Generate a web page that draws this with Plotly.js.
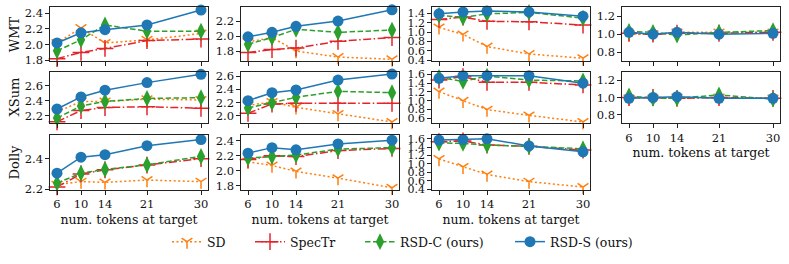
<!DOCTYPE html>
<html><head><meta charset="utf-8">
<script src="https://cdn.plot.ly/plotly-3.0.1.min.js"></script>
<style>html,body{margin:0;padding:0;background:#fff}#chart{width:789px;height:264px}</style>
</head><body><div id="chart"></div><script>
const tokens = [6, 10, 14, 21, 30];
const tickLabels = ['6', '10', '14', '21', '30'];
const methods = ['SD', 'SpecTr', 'RSD-C (ours)', 'RSD-S (ours)'];
const rowNames = ['WMT', 'XSum', 'Dolly'];

// WMT
const WMT_1_SD     = [2.02, 2.21, 2.02, 2.06, 2.14];
const WMT_1_SpecTr = [1.82, 1.90, 1.95, 2.05, 2.07];
const WMT_1_RSDC   = [1.92, 2.06, 2.25, 2.17, 2.17];
const WMT_1_RSDS   = [2.02, 2.15, 2.19, 2.25, 2.44];
const WMT_2_SD     = [1.92, 1.98, 1.80, 1.72, 1.69];
const WMT_2_SpecTr = [1.78, 1.82, 1.84, 1.93, 1.98];
const WMT_2_RSDC   = [1.89, 1.98, 2.09, 2.05, 2.08];
const WMT_2_RSDS   = [1.99, 2.05, 2.13, 2.20, 2.35];
const WMT_3_SD     = [1.10, 0.95, 0.69, 0.53, 0.44];
const WMT_3_SpecTr = [1.27, 1.32, 1.23, 1.22, 1.15];
const WMT_3_RSDC   = [1.36, 1.31, 1.39, 1.42, 1.30];
const WMT_3_RSDS   = [1.39, 1.43, 1.45, 1.43, 1.34];
const WMT_4_SD     = [1.00, 1.00, 1.02, 1.02, 1.02];
const WMT_4_SpecTr = [1.01, 1.00, 1.01, 1.01, 1.02];
const WMT_4_RSDC   = [1.03, 1.02, 0.99, 1.02, 1.04];
const WMT_4_RSDS   = [1.02, 1.00, 1.02, 1.00, 1.01];
// XSum
const XSum_1_SD     = [2.25, 2.39, 2.39, 2.42, 2.41];
const XSum_1_SpecTr = [2.12, 2.27, 2.31, 2.32, 2.30];
const XSum_1_RSDC   = [2.17, 2.33, 2.39, 2.43, 2.44];
const XSum_1_RSDS   = [2.29, 2.45, 2.54, 2.64, 2.75];
const XSum_2_SD     = [2.16, 2.21, 2.13, 2.03, 1.91];
const XSum_2_SpecTr = [2.04, 2.18, 2.19, 2.19, 2.19];
const XSum_2_RSDC   = [2.12, 2.20, 2.28, 2.37, 2.35];
const XSum_2_RSDS   = [2.23, 2.35, 2.39, 2.54, 2.63];
const XSum_3_SD     = [1.21, 1.00, 0.80, 0.67, 0.52];
const XSum_3_SpecTr = [1.47, 1.55, 1.42, 1.42, 1.36];
const XSum_3_RSDC   = [1.53, 1.44, 1.56, 1.47, 1.45];
const XSum_3_RSDS   = [1.51, 1.57, 1.57, 1.57, 1.40];
const XSum_4_SD     = [0.99, 0.99, 1.00, 1.00, 0.99];
const XSum_4_SpecTr = [1.00, 1.00, 0.99, 1.00, 0.99];
const XSum_4_RSDC   = [1.02, 0.99, 0.99, 1.03, 0.98];
const XSum_4_RSDS   = [0.99, 1.00, 1.01, 0.99, 0.99];
// Dolly
const Dolly_1_SD     = [2.23, 2.25, 2.245, 2.26, 2.25];
const Dolly_1_SpecTr = [2.215, 2.30, 2.327, 2.358, 2.40];
const Dolly_1_RSDC   = [2.24, 2.305, 2.33, 2.36, 2.415];
const Dolly_1_RSDS   = [2.305, 2.41, 2.426, 2.485, 2.525];
const Dolly_2_SD     = [2.12, 2.07, 1.99, 1.90, 1.77];
const Dolly_2_SpecTr = [2.15, 2.20, 2.19, 2.27, 2.30];
const Dolly_2_RSDC   = [2.17, 2.19, 2.21, 2.29, 2.31];
const Dolly_2_RSDS   = [2.236, 2.31, 2.28, 2.36, 2.41];
const Dolly_3_SD     = [1.12, 0.93, 0.75, 0.58, 0.45];
const Dolly_3_SpecTr = [1.53, 1.55, 1.45, 1.42, 1.33];
const Dolly_3_RSDC   = [1.50, 1.49, 1.45, 1.42, 1.36];
const Dolly_3_RSDS   = [1.57, 1.58, 1.60, 1.43, 1.29];

const panels = [
  {row: 0, col: 0, s: [WMT_1_SD, WMT_1_SpecTr, WMT_1_RSDC, WMT_1_RSDS], yr: [1.79, 2.475], lab: false},
  {row: 0, col: 1, s: [WMT_2_SD, WMT_2_SpecTr, WMT_2_RSDC, WMT_2_RSDS], yr: [1.667, 2.383], lab: false},
  {row: 0, col: 2, s: [WMT_3_SD, WMT_3_SpecTr, WMT_3_RSDC, WMT_3_RSDS], yr: [0.38, 1.53], lab: false},
  {row: 0, col: 3, s: [WMT_4_SD, WMT_4_SpecTr, WMT_4_RSDC, WMT_4_RSDS], yr: [0.7, 1.3], lab: false},
  {row: 1, col: 0, s: [XSum_1_SD, XSum_1_SpecTr, XSum_1_RSDC, XSum_1_RSDS], yr: [2.10, 2.785], lab: false},
  {row: 1, col: 1, s: [XSum_2_SD, XSum_2_SpecTr, XSum_2_RSDC, XSum_2_RSDS], yr: [1.89, 2.665], lab: false},
  {row: 1, col: 2, s: [XSum_3_SD, XSum_3_SpecTr, XSum_3_RSDC, XSum_3_RSDS], yr: [0.49, 1.66], lab: false},
  {row: 1, col: 3, s: [XSum_4_SD, XSum_4_SpecTr, XSum_4_RSDC, XSum_4_RSDS], yr: [0.7, 1.3], lab: true},
  {row: 2, col: 0, s: [Dolly_1_SD, Dolly_1_SpecTr, Dolly_1_RSDC, Dolly_1_RSDS], yr: [2.195, 2.555], lab: true},
  {row: 2, col: 1, s: [Dolly_2_SD, Dolly_2_SpecTr, Dolly_2_RSDC, Dolly_2_RSDS], yr: [1.74, 2.48], lab: true},
  {row: 2, col: 2, s: [Dolly_3_SD, Dolly_3_SpecTr, Dolly_3_RSDC, Dolly_3_RSDS], yr: [0.38, 1.69], lab: true}
];

const W = 789, H = 264;
const colPx = [[49.8, 208.2], [240.8, 399.2], [431.8, 590.2], [621.8, 780.2]];
const rowPx = [[7.3, 61], [71.7, 123.3], [135, 190]];
const legendTextPx = [207, 290, 400, 550];

const styles = [
  {color: '#ff7f0e', dash: '2px,2.5px', symbol: 'y-down-open', size: 9, lw: 1.5},
  {color: '#e3242b', dash: '8px,2.5px,1.5px,2.5px', symbol: 'cross-thin-open', size: 12, lw: 1.5},
  {color: '#2ca02c', dash: '5.5px,2.5px', symbol: 'diamond-tall', size: 12, lw: 1.5},
  {color: '#1f77b4', dash: 'solid', symbol: 'circle', size: 11, lw: 1.5}
];

const font = 'DejaVu Serif';
const traces = [];
const legendNames = ['legend', 'legend2', 'legend3', 'legend4'];
const layout = {
  width: W, height: H, margin: {l: 0, r: 0, t: 0, b: 0},
  paper_bgcolor: '#fff', plot_bgcolor: '#fff',
  font: {family: font, size: 11, color: '#111'},
  showlegend: true,
  annotations: []
};
legendNames.forEach((ln, j) => {
  layout[ln] = {orientation: 'h', x: (legendTextPx[j] - 40) / W, xanchor: 'left', y: (H - 242) / H, yanchor: 'middle',
    font: {family: font, size: 12.5, color: '#111'}, bgcolor: 'rgba(0,0,0,0)', borderwidth: 0};
});

panels.forEach((p, i) => {
  const k = i + 1;
  const xa = 'xaxis' + (k === 1 ? '' : k), ya = 'yaxis' + (k === 1 ? '' : k);
  const xr = 'x' + (k === 1 ? '' : k), yr = 'y' + (k === 1 ? '' : k);
  const cp = colPx[p.col], rp = rowPx[p.row];
  layout[xa] = {
    domain: [cp[0] / W, cp[1] / W], anchor: yr, range: [4.8, 31.2],
    tickvals: tokens, ticktext: tickLabels, showticklabels: p.lab,
    ticks: 'outside', ticklen: 3.5, tickwidth: 1, tickcolor: '#222',
    showline: true, mirror: true, linecolor: '#222', linewidth: 1,
    showgrid: false, zeroline: false, fixedrange: true,
    tickfont: {family: font, size: 11.5, color: '#111'},
    title: p.lab ? {text: 'num. tokens at target', font: {family: font, size: 12.5, color: '#111'}, standoff: 4} : {text: ''}
  };
  layout[ya] = {
    domain: [1 - rp[1] / H, 1 - rp[0] / H], anchor: xr, range: p.yr,
    dtick: 0.2, tick0: 0, tickformat: '.1f',
    ticks: 'outside', ticklen: 3.5, tickwidth: 1, tickcolor: '#222',
    showline: true, mirror: true, linecolor: '#222', linewidth: 1,
    showgrid: false, zeroline: false, fixedrange: true,
    tickfont: {family: font, size: p.col === 2 ? 11 : 11.5, color: '#111'}
  };
  p.s.forEach((vals, j) => {
    const st = styles[j];
    const open = st.symbol.endsWith('-open');
    traces.push({
      type: 'scatter', mode: 'lines+markers', x: tokens, y: vals,
      xaxis: xr, yaxis: yr, name: methods[j], legendgroup: methods[j],
      legend: legendNames[j],
      showlegend: i === 0, cliponaxis: false,
      line: {color: st.color, width: st.lw, dash: st.dash},
      marker: {symbol: st.symbol, size: st.size, color: st.color,
               line: {color: st.color, width: open ? 1.5 : 0}}
    });
  });
});

rowNames.forEach((name, r) => {
  const rp = rowPx[r];
  layout.annotations.push({
    text: name, xref: 'paper', yref: 'paper', x: 14 / W, y: 1 - (rp[0] + rp[1]) / 2 / H,
    xanchor: 'center', yanchor: 'middle', textangle: -90, showarrow: false,
    font: {family: font, size: 13, color: '#111'}
  });
});

Plotly.newPlot('chart', traces, layout, {staticPlot: true, displayModeBar: false});
</script></body></html>
